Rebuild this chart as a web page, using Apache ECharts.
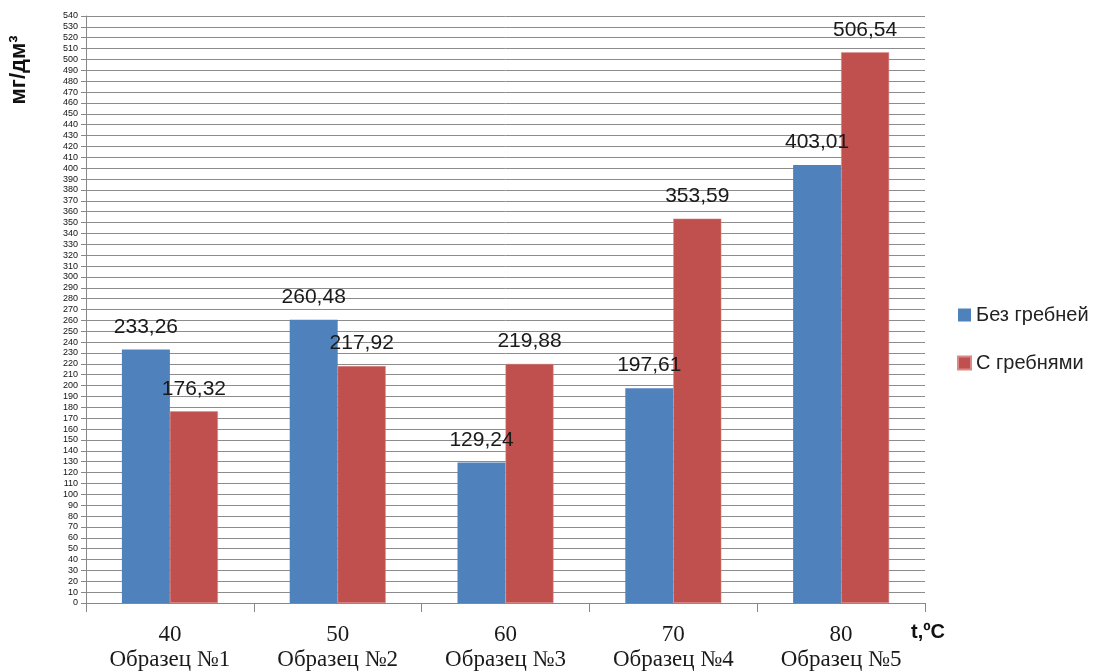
<!DOCTYPE html>
<html>
<head>
<meta charset="utf-8">
<script src="https://cdn.jsdelivr.net/npm/echarts@6/dist/echarts.min.js"></script>
<style>
  html, body { margin: 0; padding: 0; background: #fff; }
  #chart { width: 1098px; height: 672px; }
</style>
</head>
<body>
<div id="chart"></div>
<script>
// Temperatures and sample names for each group of bars
const temperatures = ['40', '50', '60', '70', '80'];
const samples = ['Образец №1', 'Образец №2', 'Образец №3', 'Образец №4', 'Образец №5'];
const seriesNames = ['Без гребней', 'С гребнями'];
// Measured concentrations, mg/dm³
const withoutCombs = [233.26, 260.48, 129.24, 197.61, 403.01];
const withCombs = [176.32, 217.92, 219.88, 353.59, 506.54];
const yMin = 0, yMax = 540, yStep = 10;

const categories = temperatures.map((t, i) => t + '\n' + samples[i]);
const fmt = p => p.value.toFixed(2).replace('.', ',');

const labelStyle = {
  show: true,
  position: 'top',
  distance: 12,
  formatter: fmt,
  fontFamily: 'Liberation Sans',
  fontSize: 21,
  color: '#1a1a1a'
};

const chart = echarts.init(document.getElementById('chart'), null, { renderer: 'canvas' });
chart.setOption({
  animation: false,
  backgroundColor: '#ffffff',
  grid: { left: 86, right: 173, top: 16, bottom: 69, containLabel: false },
  legend: {
    orient: 'vertical',
    left: 952,
    top: 300,
    itemWidth: 13,
    itemHeight: 13,
    itemGap: 28,
    icon: 'rect',
    data: seriesNames,
    textStyle: { fontFamily: 'Liberation Sans', fontSize: 20, color: '#222' }
  },
  xAxis: {
    type: 'category',
    data: categories,
    axisLine: { lineStyle: { color: '#888', width: 1 } },
    axisTick: { show: true, length: 9, lineStyle: { color: '#888' } },
    axisLabel: {
      margin: 19,
      fontFamily: 'Liberation Serif',
      fontSize: 23,
      lineHeight: 25,
      color: '#1a1a1a',
      interval: 0
    },
    splitLine: { show: false }
  },
  yAxis: {
    type: 'value',
    min: yMin,
    max: yMax,
    interval: yStep,
    axisLine: { show: true, lineStyle: { color: '#888', width: 1 } },
    axisTick: { show: true, length: 5, lineStyle: { color: '#888' } },
    axisLabel: {
      margin: 8,
      fontFamily: 'Liberation Sans',
      fontSize: 9,
      color: '#111'
    },
    splitLine: { show: true, lineStyle: { color: '#8c8c8c', width: 1 } }
  },
  series: [
    {
      name: seriesNames[0],
      type: 'bar',
      data: withoutCombs,
      barWidth: 48,
      barGap: '0%',
      itemStyle: { color: '#4F81BD' },
      label: labelStyle
    },
    {
      name: seriesNames[1],
      type: 'bar',
      data: withCombs,
      barWidth: 48,
      itemStyle: { color: '#C0504D', borderColor: '#d98a88', borderWidth: 0.5 },
      label: labelStyle
    }
  ],
  graphic: [
    {
      type: 'text',
      x: 19,
      y: 70,
      rotation: Math.PI / 2,
      style: {
        text: 'мг/дм³',
        fontFamily: 'Liberation Sans',
        fontWeight: 'bold',
        fontSize: 22,
        fill: '#111',
        align: 'center',
        verticalAlign: 'middle'
      }
    },
    {
      type: 'text',
      x: 911,
      y: 622,
      style: {
        text: 't,ºC',
        fontFamily: 'Liberation Sans',
        fontWeight: 'bold',
        fontSize: 20,
        fill: '#111'
      }
    }
  ]
});
</script>
</body>
</html>
